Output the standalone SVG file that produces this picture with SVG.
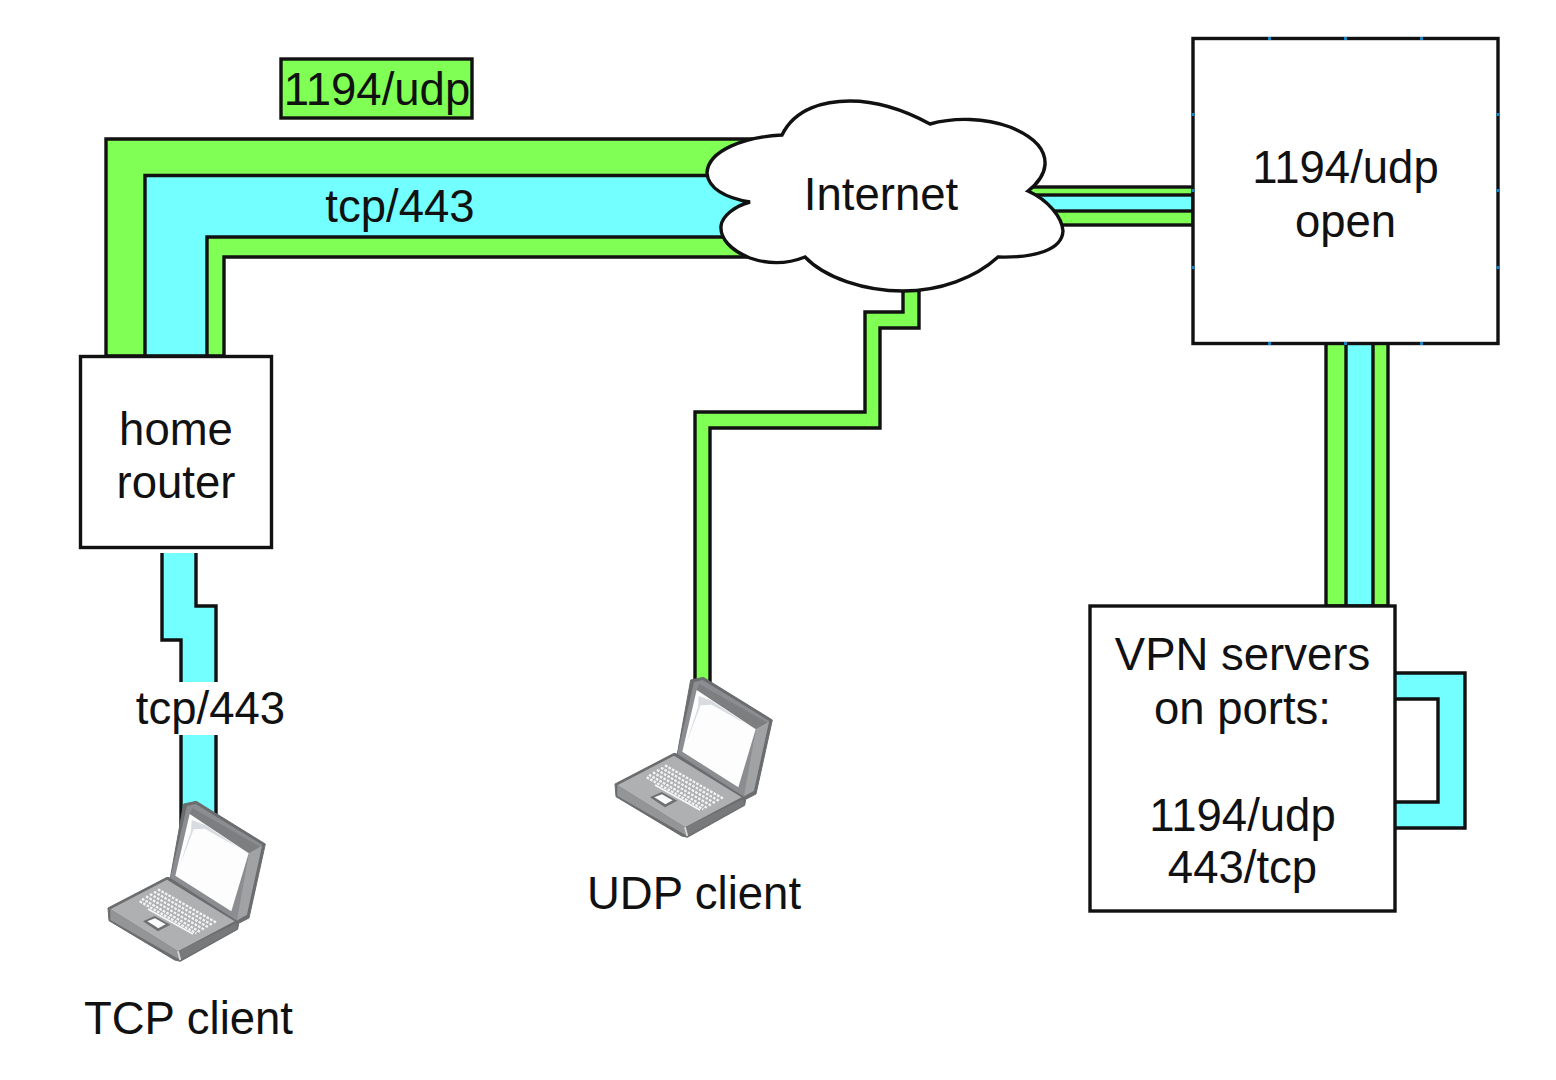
<svg xmlns="http://www.w3.org/2000/svg" xmlns:xlink="http://www.w3.org/1999/xlink" width="1556" height="1080" viewBox="0 0 1556 1080">
<style>
text{font-family:"Liberation Sans",Arial,sans-serif;font-size:45.500px;fill:#111;text-anchor:middle}
.box{fill:#fff;stroke:#111;stroke-width:3.4}
.g{fill:#80ff55;stroke:#111;stroke-width:3.4}
.c{fill:#73ffff;stroke:#111;stroke-width:3.4}
.cf{fill:#73ffff;stroke:none}
.gf{fill:#80ff55;stroke:none}
.e{fill:none;stroke:#111;stroke-width:3.4}
.pt{fill:#1583c4}
</style>
<defs>
<g id="laptop">
<path d="M45,342 L222,250 L232,252 L272,30 L310,22 L517,150 L468,372 L437,388 L434,406 L262,502 L245,498 L48,380 Z" fill="#6a6c6e" stroke="#6a6c6e" stroke-width="3" stroke-linejoin="round"/>
<path d="M282,36 L308,30 L507,152 L460,364 L432,380 L232,252 Z" fill="#8b8d90"/>
<path d="M298,42 L505,160 L466,176 L290,60 Z" fill="#7c7e80"/>
<path d="M468,178 L507,155 L462,362 L432,378 Z" fill="#a0a2a4"/>
<path d="M290,60 L467,178 L415,352 L247,245 Z" fill="#fdfdfd"/>
<path d="M296,78 L294,112 L258,222 L302,106 L335,104 L442,164 L335,92 Z" fill="#d8dce1"/>
<path d="M52,346 L222,257 L425,382 L255,472 Z" fill="#aeb0b2"/>
<path d="M52,346 L255,472 L262,498 L52,378 Z" fill="#939597"/>
<path d="M255,472 L430,388 L432,404 L262,498 Z" fill="#77797b"/>
<path d="M255,472 L262,498" stroke="#dcdddd" stroke-width="5" fill="none"/>
<g stroke="#f4f4f4" stroke-width="7" stroke-dasharray="8 4" fill="none">
<path d="M195,286 L370,386"/>
<path d="M183,293 L358,393"/>
<path d="M171,300 L346,400"/>
<path d="M159,307 L334,407"/>
<path d="M147,314 L322,414"/>
<path d="M140,322 L310,418"/>
</g>
<path d="M165,345 L300,420" stroke="#f7f7f7" stroke-width="5" fill="none"/>
<path d="M150,382 L185,366 L232,392 L195,412 Z" fill="#6d6f71"/>
<path d="M163,382 L186,373 L218,391 L196,403 Z" fill="#fbfbfb"/>
</g>
</defs>
<rect width="1556" height="1080" fill="#fff"/>
<g id="connectors">
<path class="g" d="M106,356 V139 H780 V257 H224 V356 Z"/>
<path class="c" d="M145,356 V175.500 H760 V237 H207 V356 Z"/>
<rect class="g" x="1000" y="187" width="193" height="38"/>
<rect class="c" x="1000" y="195" width="193" height="16"/>
<rect class="g" x="1326" y="343" width="62" height="263"/>
<rect class="c" x="1346" y="343" width="27" height="263"/>
<path class="c" d="M1385,673 H1465 V828 H1385 V802 H1438 V699 H1385 Z"/>
<path class="gf" d="M903,285 H919 V328 H880 V428 H710 V700 H695 V412 H865 V312 H903 Z"/>
<path class="e" d="M903,285 V312 H865 V412 H695 V700"/>
<path class="e" d="M919,285 V328 H880 V428 H710 V700"/>
<path class="cf" d="M162,553 H196 V606 H216 V830 H181 V640 H162 Z"/>
<path class="e" d="M162,553 V640 H181 V830"/>
<path class="e" d="M196,553 V606 H216 V830"/>
</g>
<g id="label-tcp-lower">
<rect x="136" y="682" width="150" height="53" fill="#fff"/>
<text x="210.500" y="724">tcp/443</text>
</g>
<g id="label-udp">
<rect class="g" x="281" y="59" width="191" height="59"/>
<text x="377" y="105">1194/udp</text>
</g>
<g id="label-tcp-upper">
<text x="400" y="222">tcp/443</text>
</g>
<g id="internet">
<path class="box" d="M782,135 C795,108 825,101 850,101 C880,101 908,112 930,124 C955,117 985,118 1010,127 C1035,137 1046,150 1045,165 C1044,176 1037,184 1028,191 C1048,200 1062,217 1063,231 C1062,250 1035,258 998,257 C975,278 940,291 903,291 C865,291 825,278 805,257 C790,263 770,265 750,258 C730,250 720,238 721,226 C722,216 735,206 750,202 C725,198 708,188 707,173 C708,150 745,137 782,135 Z"/>
<text x="881" y="210">Internet</text>
</g>
<g id="firewall">
<rect class="box" x="1193" y="38.500" width="305" height="305"/>
<g class="pt">
<rect x="1268" y="37" width="3" height="3"/><rect x="1344" y="37" width="3" height="3"/><rect x="1420" y="37" width="3" height="3"/>
<rect x="1268" y="342" width="3" height="3"/><rect x="1344" y="342" width="3" height="3"/><rect x="1420" y="342" width="3" height="3"/>
<rect x="1191.500" y="113" width="3" height="3"/><rect x="1191.500" y="189" width="3" height="3"/><rect x="1191.500" y="266" width="3" height="3"/>
<rect x="1496.500" y="113" width="3" height="3"/><rect x="1496.500" y="189" width="3" height="3"/><rect x="1496.500" y="266" width="3" height="3"/>
</g>
<text x="1345.500" y="183">1194/udp</text>
<text x="1345.500" y="237">open</text>
</g>
<g id="home-router">
<rect class="box" x="80.500" y="356.500" width="191" height="191"/>
<text x="176" y="445">home</text>
<text x="176" y="498">router</text>
</g>
<g id="vpn-servers">
<rect class="box" x="1090" y="606" width="305" height="305"/>
<text x="1242.500" y="670">VPN servers</text>
<text x="1242.500" y="724">on ports:</text>
<text x="1242.500" y="831">1194/udp</text>
<text x="1242.500" y="883">443/tcp</text>
</g>
<g id="udp-client">
<use xlink:href="#laptop" href="#laptop" transform="translate(600,670) scale(.33333)"/>
<text x="694" y="909">UDP client</text>
</g>
<g id="tcp-client">
<use xlink:href="#laptop" href="#laptop" transform="translate(93,794) scale(.33333)"/>
<text x="188.500" y="1034">TCP client</text>
</g>
</svg>
